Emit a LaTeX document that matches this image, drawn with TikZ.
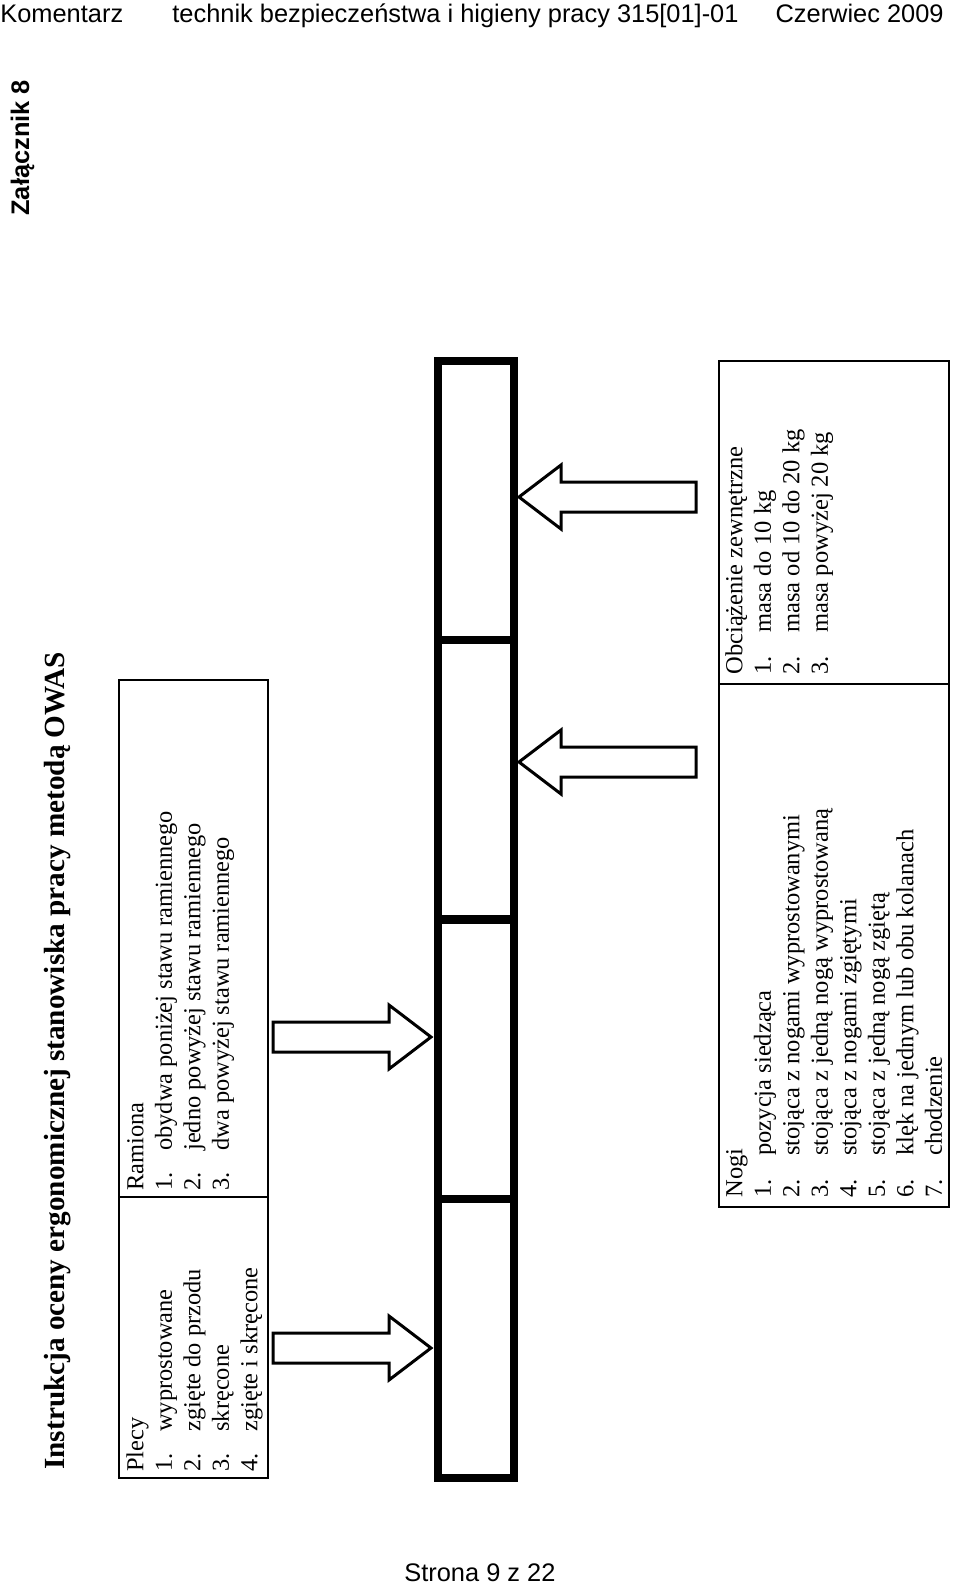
\documentclass[tikz,border=0pt]{standalone}
\usepackage{fontspec}
\setmainfont{Liberation Serif}
\newfontfamily\headfont{Liberation Sans}
\usetikzlibrary{positioning}

\newcommand{\owasitem}[3][20pt]{\makebox[#1][l]{#2}#3}

\tikzset{
        tabline/.style={line width=1.2pt},
        barcell/.style={draw, line width=4pt, minimum width=38pt, minimum height=139.625pt, inner sep=0pt},
        celltext/.style={rotate=90, anchor=north west, align=left, inner xsep=3pt, inner ysep=3pt,
                font=\fontsize{12.2pt}{14.25pt}\selectfont},
        celltextr/.style={celltext, inner xsep=4.5pt, inner ysep=2pt, font=\fontsize{12.25pt}{14.25pt}\selectfont},
        headtext/.style={anchor=base west, inner sep=0pt, font=\headfont\fontsize{12.7pt}{15pt}\selectfont},
        pics/blockarrow/.style={code={
                \draw[line width=1.5pt, line join=miter, fill=white] (0,0) -- (-42,-32) -- (-42,-15) -- (-#1,-15)
                        -- (-#1,15) -- (-42,15) -- (-42,32) -- cycle;
        }}
}

\begin{document}
\begin{tikzpicture}[x=0.5pt, y=-0.5pt]
        \useasboundingbox[fill=white] (0,0) rectangle (960,1584);

        % naglowek i stopka
        \node[headtext] (kom) at (0,23) {Komentarz};
        \node[headtext] (zawod) at (172,23) {technik bezpieczeństwa i higieny pracy 315[01]-01};
        \node[headtext, anchor=base east] (data) at (944,23) {Czerwiec 2009};
        \node[headtext, rotate=90, font=\headfont\bfseries\fontsize{12.7pt}{15pt}\selectfont] (zal) at (29,216) {Załącznik 8};
        \node[headtext] (strona) at (404,1581) {Strona 9 z 22};

        \node[rotate=90, anchor=base west, inner sep=0pt, font=\fontsize{14.6pt}{17pt}\selectfont\bfseries] (tytul) at (64,1470)
                {Instrukcja oceny ergonomicznej stanowiska pracy metodą OWAS};

        % tabela lewa
        \draw[tabline] (119,680) rectangle (268,1478);
        \draw[tabline] (119,1197) -- (268,1197);
        \node[celltext] (plecy) at (119,1478) {\rule{0pt}{9pt}Plecy\\ \owasitem{1.}{wyprostowane}\\ \owasitem{2.}{zgięte do przodu}\\
                \owasitem{3.}{skręcone}\\ \owasitem{4.}{zgięte i skręcone}};
        \node[celltext] (ramiona) at (119,1197) {\rule{0pt}{9pt}Ramiona\\ \owasitem{1.}{obydwa poniżej stawu ramiennego}\\
                \owasitem{2.}{jedno powyżej stawu ramiennego}\\ \owasitem{3.}{dwa powyżej stawu ramiennego}};

        % tabela prawa
        \draw[tabline] (719,361) rectangle (949,1207);
        \draw[tabline] (719,684) -- (949,684);
        \node[celltextr] (obciazenie) at (719,684) {\rule{0pt}{9.5pt}Obciążenie zewnętrzne\\ \owasitem[21pt]{1.}{masa do 10 kg}\\
                \owasitem[21pt]{2.}{masa od 10 do 20 kg}\\ \owasitem[21pt]{3.}{masa powyżej 20 kg}};
        \node[celltextr] (nogi) at (719,1207) {\rule{0pt}{9.5pt}Nogi\\ \owasitem[21pt]{1.}{pozycja siedząca}\\
                \owasitem[21pt]{2.}{stojąca z nogami wyprostowanymi}\\ \owasitem[21pt]{3.}{stojąca z jedną nogą wyprostowaną}\\
                \owasitem[21pt]{4.}{stojąca z nogami zgiętymi}\\ \owasitem[21pt]{5.}{stojąca z jedną nogą zgiętą}\\
                \owasitem[21pt]{6.}{klęk na jednym lub obu kolanach}\\ \owasitem[21pt]{7.}{chodzenie}};

        % pasek kodu
        \node[barcell] (cell1) at (476,500.6) {};
        \node[barcell] (cell2) at (476,779.9) {};
        \node[barcell] (cell3) at (476,1059.1) {};
        \node[barcell] (cell4) at (476,1338.4) {};

        % strzalki
        \pic at (431,1348) {blockarrow=158};
        \pic at (431,1037) {blockarrow=158};
        \pic[rotate=180] at (519,497) {blockarrow=177};
        \pic[rotate=180] at (519,762) {blockarrow=177};
\end{tikzpicture}
\end{document}
